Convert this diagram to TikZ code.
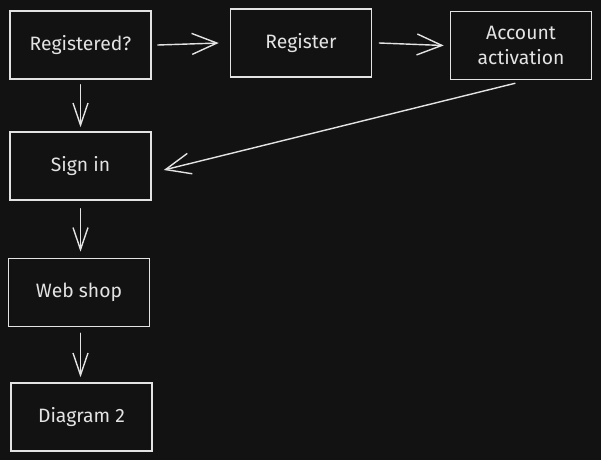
\documentclass[tikz,border=0pt]{standalone}
\usepackage{fontspec}
\setmainfont{Fira Sans}
\usetikzlibrary{arrows.meta, positioning}
\definecolor{canvas}{HTML}{121212}
\definecolor{ink}{HTML}{E3E3E3}

\begin{document}
\begin{tikzpicture}[
  box/.style={draw=ink, line width=0.9pt, minimum width=2.82cm, minimum height=1.36cm, text=ink, font=\fontsize{11}{14}\selectfont, align=center},
  flow/.style={draw=ink, line width=0.8pt, line cap=round, -{Straight Barb[length=0.5cm, width=0.42cm]}},
  down/.style={flow, -{Straight Barb[length=0.44cm, width=0.3cm]}}
]
% Canvas
\fill[canvas] (0,0) rectangle (12.02,-9.2);
\useasboundingbox (0,0) rectangle (12.02,-9.2);
% Boxes
\node[box] (registered) at (1.61,-0.9) {Registered?};
\node[box] (register) at (6.02,-0.86) {Register};
\node[box] (activation) at (10.42,-0.91) {Account\\activation};
\node[box] (signin) at (1.61,-3.32) {Sign in};
\node[box] (shop) at (1.58,-5.85) {Web shop};
\node[box] (diagram) at (1.63,-8.34) {Diagram 2};
% Arrows
\draw[flow] ([xshift=0.12cm]registered.east) -- ([xshift=-0.22cm]register.west);
\draw[flow] ([xshift=0.14cm]register.east) -- ([xshift=-0.12cm]activation.west);
\draw[flow] ([xshift=-0.12cm,yshift=-0.06cm]activation.south) -- ([xshift=0.24cm,yshift=-0.08cm]signin.east);
\draw[down] ([yshift=-0.1cm]registered.south) -- ([yshift=0.08cm]signin.north);
\draw[down] ([yshift=-0.16cm]signin.south) -- ([yshift=0.12cm]signin.south |- shop.north);
\draw[down] ([yshift=-0.12cm]signin.south |- shop.south) -- ([yshift=0.1cm]signin.south |- diagram.north);
\end{tikzpicture}
\end{document}
